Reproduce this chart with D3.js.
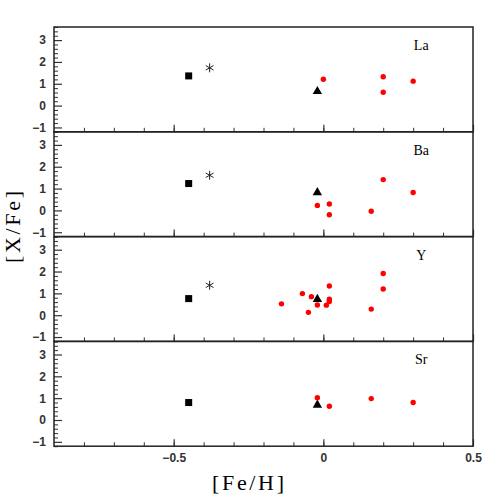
<!DOCTYPE html>
<html>
<head>
<meta charset="utf-8">
<script src="https://cdn.jsdelivr.net/npm/d3@7"></script>
<style>
  body { margin: 0; background: #fff; }
  .tick text { font-family: "Liberation Sans", Arial, sans-serif; font-weight: bold; fill: #333; }
</style>
</head>
<body>
<div id="container"></div>
<script>
const elements = ["La", "Ba", "Y", "Sr"];

// reference stars: one point per element
const squareFeH = -0.45;
const squareXFe = [1.36, 1.23, 0.76, 0.80];
const starFeH = -0.38;
const starXFe = [1.73, 1.61, 1.37, null];
const triFeH = -0.02;
const triXFe = [0.65, 0.82, 0.73, 0.69];

// red sample points
const laFeH = [0.00, 0.20, 0.20, 0.30];
const laXFe = [1.21, 1.32, 0.61, 1.12];
const baFeH = [-0.02, 0.02, 0.02, 0.16, 0.20, 0.30];
const baXFe = [0.23, 0.29, -0.20, -0.04, 1.41, 0.82];
const yFeH = [-0.14, -0.07, -0.04, -0.05, -0.02, 0.01, 0.02, 0.02, 0.02, 0.16, 0.20, 0.20];
const yXFe = [0.52, 0.99, 0.85, 0.13, 0.47, 0.46, 0.63, 0.73, 1.34, 0.28, 1.20, 1.91];
const srFeH = [-0.02, 0.02, 0.16, 0.30];
const srXFe = [1.02, 0.63, 0.98, 0.80];

const redFeH = [laFeH, baFeH, yFeH, srFeH];
const redXFe = [laXFe, baXFe, yXFe, srXFe];

const xTicks = [-0.5, 0, 0.5];
const yTicks = [-1, 0, 1, 2, 3];

const margin = {left: 54, right: 473, top: 27};
const panelH = 104.8;

const svg = d3.select("#container").append("svg")
  .attr("width", 500).attr("height", 500);

const x = d3.scaleLinear().domain([-0.9, 0.5]).range([margin.left, margin.right]);

const fmt = d => d < 0 ? "\u2212" + Math.abs(d) : d;

elements.forEach((el, i) => {
  const y0 = margin.top + i * panelH;
  const y = d3.scaleLinear().domain([-1.2, 3.6]).range([y0 + panelH, y0]);
  const g = svg.append("g");

  // minor + major x ticks, pointing up
  g.append("g")
    .attr("transform", "translate(0," + (y0 + panelH) + ")")
    .call(d3.axisTop(x).tickValues(d3.range(-0.8, 0.5, 0.1)).tickSize(4).tickFormat(""))
    .call(a => a.select(".domain").remove())
    .call(a => a.selectAll("line").attr("stroke", "#333"));
  g.append("g")
    .attr("transform", "translate(0," + (y0 + panelH) + ")")
    .call(d3.axisTop(x).tickValues(xTicks).tickSize(7).tickFormat(""))
    .call(a => a.select(".domain").remove())
    .call(a => a.selectAll("line").attr("stroke", "#333").attr("stroke-width", 1.2));

  // y ticks pointing right
  g.append("g")
    .attr("transform", "translate(" + margin.left + ",0)")
    .call(d3.axisRight(y).tickValues(d3.range(-1.2, 3.61, 0.2).filter(v => Math.abs(v - Math.round(v)) > 0.01)).tickSize(4).tickFormat(""))
    .call(a => a.select(".domain").remove())
    .call(a => a.selectAll("line").attr("stroke", "#333"));
  g.append("g")
    .attr("transform", "translate(" + margin.left + ",0)")
    .call(d3.axisLeft(y).tickValues(yTicks).tickSize(0).tickPadding(8).tickFormat(fmt))
    .call(a => a.select(".domain").remove())
    .call(a => a.selectAll("text").attr("font-size", 12));
  g.append("g")
    .attr("transform", "translate(" + margin.left + ",0)")
    .call(d3.axisRight(y).tickValues(yTicks).tickSize(8).tickFormat(""))
    .call(a => a.select(".domain").remove())
    .call(a => a.selectAll("line").attr("stroke", "#333").attr("stroke-width", 1.2));

  // frame
  g.append("rect")
    .attr("x", margin.left).attr("y", y0)
    .attr("width", margin.right - margin.left).attr("height", panelH)
    .attr("fill", "none").attr("stroke", "#222").attr("stroke-width", 1.5);

  g.append("text")
    .attr("x", x(0.327)).attr("y", y(2.55))
    .attr("text-anchor", "middle")
    .attr("font-family", "'Liberation Serif', 'Times New Roman', serif")
    .attr("font-size", 14)
    .text(el);

  // square
  g.append("rect")
    .attr("x", x(squareFeH) - 3.5).attr("y", y(squareXFe[i]) - 3.5)
    .attr("width", 7).attr("height", 7).attr("fill", "#000");

  // asterisk
  if (starXFe[i] !== null) {
    const cx = x(starFeH), cy = y(starXFe[i]);
    [0, 60, 120].forEach(a => {
      const r = a * Math.PI / 180, s = 4.5;
      g.append("line")
        .attr("x1", cx - s * Math.sin(r)).attr("y1", cy - s * Math.cos(r))
        .attr("x2", cx + s * Math.sin(r)).attr("y2", cy + s * Math.cos(r))
        .attr("stroke", "#222").attr("stroke-width", 1);
    });
  }

  // triangle
  g.append("path")
    .attr("d", d3.symbol(d3.symbolTriangle, 38)())
    .attr("transform", "translate(" + x(triFeH) + "," + y(triXFe[i]) + ")")
    .attr("fill", "#000");

  // red points
  g.selectAll(".red")
    .data(redFeH[i].map((v, j) => ({fe: v, xfe: redXFe[i][j]})))
    .enter().append("circle")
    .attr("class", "red")
    .attr("cx", d => x(d.fe)).attr("cy", d => y(d.xfe))
    .attr("r", 2.7).attr("fill", "#ff0000");
});

// bottom x labels
svg.append("g")
  .attr("transform", "translate(0," + (margin.top + 4 * panelH) + ")")
  .call(d3.axisBottom(x).tickValues(xTicks).tickSize(0).tickPadding(7).tickFormat(fmt))
  .call(a => a.select(".domain").remove())
  .call(a => a.selectAll("text").attr("font-size", 12));

svg.append("text")
  .attr("x", 248).attr("y", 490)
  .attr("text-anchor", "middle")
  .attr("font-family", "'Liberation Serif', 'Times New Roman', serif")
  .attr("font-size", 22)
  .attr("textLength", 72).attr("lengthAdjust", "spacing")
  .text("[Fe/H]");

svg.append("text")
  .attr("transform", "translate(20,227) rotate(-90)")
  .attr("text-anchor", "middle")
  .attr("font-family", "'Liberation Serif', 'Times New Roman', serif")
  .attr("font-size", 22)
  .attr("textLength", 72).attr("lengthAdjust", "spacing")
  .text("[X/Fe]");
</script>
</body>
</html>
